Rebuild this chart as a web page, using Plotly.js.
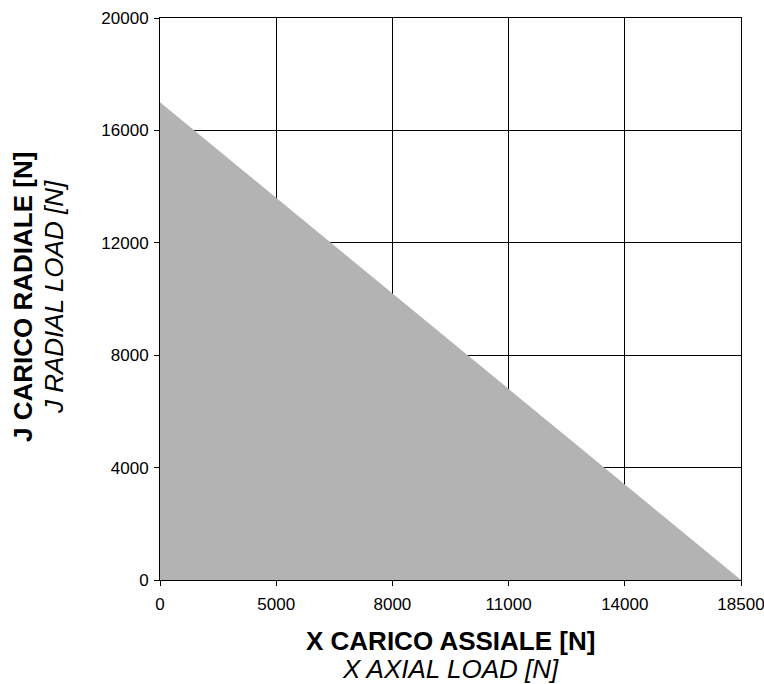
<!DOCTYPE html>
<html>
<head>
<meta charset="utf-8">
<script src="https://cdn.plot.ly/plotly-3.0.1.min.js"></script>
<style>
  html, body { margin: 0; padding: 0; background: #fff; }
  #chart { width: 764px; height: 684px; }
</style>
</head>
<body>
<div id="chart"></div>
<script>
// Boundary of the admissible load region (axial X vs radial J)
const axialLoad = [0, 18500];
const radialLoad = [17000, 0];

// Axis tick labels
const xTickLabels = ["0", "5000", "8000", "11000", "14000", "18500"];
const xMax = 18500;
const yTickVals = [0, 4000, 8000, 12000, 16000, 20000];

// Titles
const xTitleMain = "X CARICO ASSIALE [N]";
const xTitleSub = "X AXIAL LOAD [N]";
const yTitleMain = "J CARICO RADIALE [N]";
const yTitleSub = "J RADIAL LOAD [N]";

const xTickVals = xTickLabels.map((_, i) => i * xMax / (xTickLabels.length - 1));

const FONT = "Liberation Sans, Arial, Helvetica, sans-serif";

const trace = {
  x: axialLoad,
  y: radialLoad,
  type: "scatter",
  mode: "lines",
  fill: "tozeroy",
  fillcolor: "#b3b3b3",
  line: { width: 0, color: "#b3b3b3" },
  hoverinfo: "skip",
  showlegend: false
};

const axisCommon = {
  showline: true,
  mirror: true,
  linecolor: "#000",
  linewidth: 1,
  showgrid: true,
  gridcolor: "#000",
  gridwidth: 1,
  zeroline: false,
  ticks: "outside",
  ticklen: 5,
  tickwidth: 1,
  tickcolor: "#000",
  ticklabeloverflow: "allow",
  tickfont: { family: FONT, size: 17, color: "#000" }
};

const layout = {
  width: 764,
  height: 684,
  margin: { l: 160, r: 23, t: 18, b: 104, pad: 0 },
  paper_bgcolor: "#fff",
  plot_bgcolor: "#fff",
  font: { family: FONT, color: "#000" },
  showlegend: false,
  xaxis: Object.assign({}, axisCommon, {
    range: [0, xMax],
    tickmode: "array",
    tickvals: xTickVals,
    ticktext: xTickLabels,
    ticklabelstandoff: 4
  }),
  yaxis: Object.assign({}, axisCommon, {
    range: [0, 20000],
    tickmode: "array",
    tickvals: yTickVals,
    ticktext: yTickVals.map(String),
    ticklabelstandoff: 2
  }),
  annotations: [
    { text: "<b>" + xTitleMain + "</b>", xref: "paper", yref: "paper", x: 0.5, y: 0,
      xanchor: "center", yanchor: "middle", yshift: -61, showarrow: false,
      font: { family: FONT, size: 26, color: "#000" } },
    { text: "<i>" + xTitleSub + "</i>", xref: "paper", yref: "paper", x: 0.5, y: 0,
      xanchor: "center", yanchor: "middle", yshift: -89, showarrow: false,
      font: { family: FONT, size: 26, color: "#000" } },
    { text: "<b>" + yTitleMain + "</b>", xref: "paper", yref: "paper", x: 0, y: 0.5,
      xanchor: "center", yanchor: "middle", xshift: -137, yshift: 2, textangle: -90, showarrow: false,
      font: { family: FONT, size: 26, color: "#000" } },
    { text: "<i>" + yTitleSub + "</i>", xref: "paper", yref: "paper", x: 0, y: 0.5,
      xanchor: "center", yanchor: "middle", xshift: -106, yshift: 2, textangle: -90, showarrow: false,
      font: { family: FONT, size: 26, color: "#000" } }
  ]
};

Plotly.newPlot("chart", [trace], layout, { staticPlot: true, displayModeBar: false });
</script>
</body>
</html>
